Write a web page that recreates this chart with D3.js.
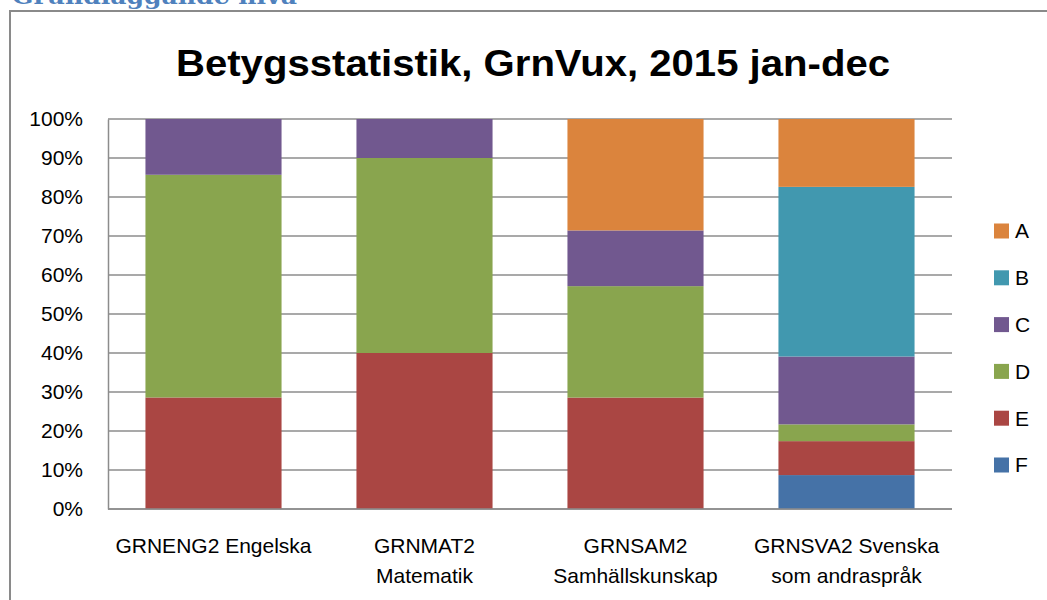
<!DOCTYPE html>
<html>
<head>
<meta charset="utf-8">
<script src="https://cdn.jsdelivr.net/npm/d3@7"></script>
<style>
  body { margin: 0; background: #fff; }
  svg { display: block; }
</style>
</head>
<body>
<div id="chart"></div>
<script>
// data (percent of grades per course)
const categories = ["GRNENG2 Engelska", "GRNMAT2 Matematik", "GRNSAM2 Samhällskunskap", "GRNSVA2 Svenska som andraspråk"];
const grades = ["A", "B", "C", "D", "E", "F"];
const valuesA = [0, 0, 28.6, 17.4];
const valuesB = [0, 0, 0, 43.5];
const valuesC = [14.3, 10, 14.3, 17.4];
const valuesD = [57.1, 50, 28.6, 4.3];
const valuesE = [28.6, 40, 28.6, 8.7];
const valuesF = [0, 0, 0, 8.7];
const yTicks = [0, 0.1, 0.2, 0.3, 0.4, 0.5, 0.6, 0.7, 0.8, 0.9, 1];

const colors = { A: "#db843d", B: "#4198af", C: "#71588f", D: "#89a54e", E: "#aa4643", F: "#4572a7" };
const series = { A: valuesA, B: valuesB, C: valuesC, D: valuesD, E: valuesE, F: valuesF };

const rows = categories.map((c, i) => {
    const r = { cat: c };
    grades.forEach(g => { r[g] = series[g][i]; });
    return r;
});

const W = 1047, H = 600;
const plot = { left: 108, right: 952, top: 119, bottom: 509 };
const font = "'Liberation Sans', Arial, sans-serif";
const labelSize = 21;

const svg = d3.select("#chart").append("svg")
    .attr("width", W)
    .attr("height", H);

// page heading, cut off by the top edge as in the original
svg.append("text")
    .attr("x", 12)
    .attr("y", 4)
    .attr("font-family", "'DejaVu Serif', 'Liberation Serif', serif")
    .attr("font-weight", "bold")
    .attr("font-size", 22)
    .attr("fill", "#4f81bd")
    .attr("textLength", 285)
    .attr("lengthAdjust", "spacingAndGlyphs")
    .text("Grundläggande nivå");

// chart frame
svg.append("rect")
    .attr("x", 10)
    .attr("y", 11)
    .attr("width", W + 20)
    .attr("height", H + 20)
    .attr("fill", "none")
    .attr("stroke", "#8a8a8a")
    .attr("stroke-width", 2);

// title
svg.append("text")
    .attr("x", 533)
    .attr("y", 76)
    .attr("text-anchor", "middle")
    .attr("font-family", font)
    .attr("font-weight", "bold")
    .attr("font-size", 37)
    .attr("textLength", 714)
    .attr("lengthAdjust", "spacingAndGlyphs")
    .attr("fill", "#000")
    .text("Betygsstatistik, GrnVux, 2015 jan-dec");

const x = d3.scaleBand()
    .domain(categories)
    .range([plot.left, plot.right])
    .paddingInner(0.355)
    .paddingOuter(0.1775);

const y = d3.scaleLinear()
    .domain([0, 1])
    .range([plot.bottom, plot.top]);

// grid lines
svg.append("g")
    .selectAll("line")
    .data(yTicks)
    .enter().append("line")
    .attr("x1", plot.left)
    .attr("x2", plot.right)
    .attr("y1", d => y(d))
    .attr("y2", d => y(d))
    .attr("stroke", "#8c8c8c")
    .attr("stroke-width", 1.5);

// y axis
const yAxis = d3.axisLeft(y)
    .tickValues(yTicks)
    .tickFormat(d3.format(".0%"))
    .tickSize(0)
    .tickPadding(25);

const gy = svg.append("g")
    .attr("transform", "translate(" + plot.left + ",0)")
    .call(yAxis);
gy.select(".domain").attr("stroke", "#8c8c8c").attr("stroke-width", 1.5);
gy.selectAll("text")
    .attr("font-family", font)
    .attr("font-size", labelSize)
    .attr("fill", "#000");

// stacked bars, F at the bottom
const stack = d3.stack()
    .keys(grades.slice().reverse())
    .offset(d3.stackOffsetExpand);

const layers = stack(rows);

svg.append("g")
    .selectAll("g")
    .data(layers)
    .enter().append("g")
    .attr("fill", d => colors[d.key])
    .selectAll("rect")
    .data(d => d)
    .enter().append("rect")
    .attr("x", d => x(d.data.cat))
    .attr("width", x.bandwidth())
    .attr("y", d => y(d[1]))
    .attr("height", d => Math.max(0, y(d[0]) - y(d[1])));

// x axis baseline
svg.append("line")
    .attr("x1", plot.left)
    .attr("x2", plot.right)
    .attr("y1", plot.bottom)
    .attr("y2", plot.bottom)
    .attr("stroke", "#8c8c8c")
    .attr("stroke-width", 1.5);

// category labels, wrapped to the category width
const labels = svg.append("g")
    .selectAll("text")
    .data(categories)
    .enter().append("text")
    .attr("x", d => x(d) + x.bandwidth() / 2)
    .attr("y", 553)
    .attr("text-anchor", "middle")
    .attr("font-family", font)
    .attr("font-size", labelSize)
    .attr("fill", "#000");

labels.each(function (d) {
    const el = d3.select(this);
    const cx = x(d) + x.bandwidth() / 2;
    const words = d.split(" ");
    const maxW = 199;
    let line = [];
    let tspan = el.append("tspan").attr("x", cx).attr("dy", 0);
    words.forEach(w => {
        line.push(w);
        tspan.text(line.join(" "));
        if (tspan.node().getComputedTextLength() > maxW && line.length > 1) {
            line.pop();
            tspan.text(line.join(" "));
            line = [w];
            tspan = el.append("tspan")
                .attr("x", cx)
                .attr("dy", 30)
                .text(w);
        }
    });
});

// legend
const legend = svg.append("g")
    .selectAll("g")
    .data(grades)
    .enter().append("g")
    .attr("transform", (d, i) => "translate(994," + (231 + i * 46.8) + ")");

legend.append("rect")
    .attr("x", 0)
    .attr("y", -7.5)
    .attr("width", 15)
    .attr("height", 15)
    .attr("fill", d => colors[d]);

legend.append("text")
    .attr("x", 21)
    .attr("y", 0)
    .attr("dy", "0.35em")
    .attr("font-family", font)
    .attr("font-size", labelSize)
    .attr("fill", "#000")
    .text(d => d);
</script>
</body>
</html>
